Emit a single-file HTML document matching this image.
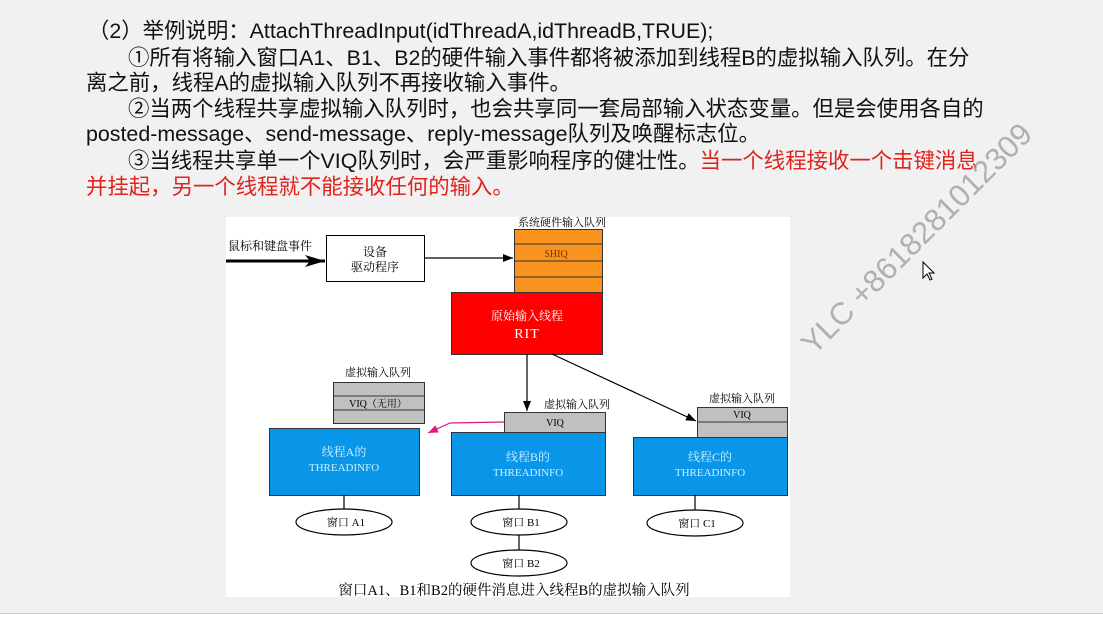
<!DOCTYPE html>
<html><head><meta charset="utf-8">
<style>
html,body{margin:0;padding:0}
body{width:1103px;height:620px;position:relative;overflow:hidden;background:#f1f1f1;font-family:"Liberation Sans","Noto Sans CJK SC",sans-serif}
.t{position:absolute;font-size:21.4px;color:#111;white-space:nowrap;line-height:26px}
.r{color:#e0231d}
.bottom{position:absolute;left:0;top:613px;width:1103px;height:7px;background:#fff;border-top:1px solid #ccc}
svg{position:absolute;left:0;top:0}
</style></head><body>
<div class="t" style="left:88px;top:18px">（2）举例说明：AttachThreadInput(idThreadA,idThreadB,TRUE);</div>
<div class="t" style="left:128px;top:45px">①所有将输入窗口A1、B1、B2的硬件输入事件都将被添加到线程B的虚拟输入队列。在分</div>
<div class="t" style="left:86px;top:70px">离之前，线程A的虚拟输入队列不再接收输入事件。</div>
<div class="t" style="left:128px;top:96px">②当两个线程共享虚拟输入队列时，也会共享同一套局部输入状态变量。但是会使用各自的</div>
<div class="t" style="left:86px;top:121px">posted-message、send-message、reply-message队列及唤醒标志位。</div>
<div class="t" style="left:128px;top:148px">③当线程共享单一个VIQ队列时，会严重影响程序的健壮性。<span class="r">当一个线程接收一个击键消息</span></div>
<div class="t r" style="left:86px;top:174px">并挂起，另一个线程就不能接收任何的输入。</div>
<div class="bottom"></div>
<svg width="1103" height="620" viewBox="0 0 1103 620" font-family="Liberation Serif,Noto Serif CJK SC,serif">
<defs>
<marker id="ar" markerWidth="10" markerHeight="8" refX="10" refY="4" orient="auto" markerUnits="userSpaceOnUse"><path d="M0,0 L10,4 L0,8 z" fill="#000"/></marker>
<marker id="arb" markerWidth="20" markerHeight="12" refX="20" refY="6" orient="auto" markerUnits="userSpaceOnUse"><path d="M0,0 L20,6 L0,12 L5,6 z" fill="#000"/></marker>
<marker id="arp" markerWidth="10" markerHeight="8" refX="10" refY="4" orient="auto" markerUnits="userSpaceOnUse"><path d="M0,0 L10,4 L0,8 z" fill="#e0197a"/></marker>
</defs>
<rect x="226" y="217" width="564" height="380" fill="#fff"/>
<text x="228" y="250" font-size="12">鼠标和键盘事件</text>
<line x1="226" y1="261" x2="325" y2="261" stroke="#000" stroke-width="3" marker-end="url(#arb)"/>
<rect x="326.5" y="235.5" width="98" height="46" fill="#fff" stroke="#000"/>
<text x="375" y="256" font-size="12" text-anchor="middle">设备</text>
<text x="375" y="271" font-size="12" text-anchor="middle">驱动程序</text>
<line x1="424" y1="258" x2="513" y2="258" stroke="#000" stroke-width="1.2" marker-end="url(#ar)"/>
<text x="562" y="226" font-size="11" text-anchor="middle">系统硬件输入队列</text>
<rect x="514.5" y="229.5" width="88" height="63" fill="#f7931e" stroke="#333"/>
<line x1="514" y1="244" x2="602" y2="244" stroke="#333"/>
<line x1="514" y1="261" x2="602" y2="261" stroke="#333"/>
<line x1="514" y1="277" x2="602" y2="277" stroke="#333"/>
<text x="556" y="257" font-size="10" text-anchor="middle" fill="#7a3000">SHIQ</text>
<rect x="451.5" y="292.5" width="151" height="62" fill="#f00" stroke="#333"/>
<text x="527" y="320" font-size="12" text-anchor="middle" fill="#fff">原始输入线程</text>
<text x="527" y="338" font-size="14" text-anchor="middle" fill="#fff" letter-spacing="1">RIT</text>
<line x1="527" y1="354" x2="527" y2="411" stroke="#000" stroke-width="1.2" marker-end="url(#ar)"/>
<line x1="552" y1="354" x2="696" y2="421" stroke="#000" stroke-width="1.2" marker-end="url(#ar)"/>
<text x="378" y="376" font-size="11" text-anchor="middle">虚拟输入队列</text>
<rect x="333.5" y="382.5" width="91" height="41" fill="#c0c0c0" stroke="#333"/>
<line x1="333" y1="396" x2="424" y2="396" stroke="#333"/>
<line x1="333" y1="410" x2="424" y2="410" stroke="#333"/>
<text x="378" y="407" font-size="10" text-anchor="middle">VIQ（无用）</text>
<rect x="269.5" y="428.5" width="150" height="67" fill="#0a96e8" stroke="#333"/>
<text x="344" y="456" font-size="12" text-anchor="middle" fill="#cfefff">线程A的</text>
<text x="344" y="471" font-size="11" text-anchor="middle" fill="#cfefff">THREADINFO</text>
<text x="577" y="408" font-size="11" text-anchor="middle">虚拟输入队列</text>
<rect x="504.5" y="412.5" width="101" height="20" fill="#c0c0c0" stroke="#333"/>
<text x="555" y="426" font-size="10" text-anchor="middle">VIQ</text>
<polyline points="504,422 450,423 428,433" fill="none" stroke="#e0197a" stroke-width="1.2" marker-end="url(#arp)"/>
<rect x="451.5" y="432.5" width="154" height="63" fill="#0a96e8" stroke="#333"/>
<text x="528" y="461" font-size="12" text-anchor="middle" fill="#cfefff">线程B的</text>
<text x="528" y="476" font-size="11" text-anchor="middle" fill="#cfefff">THREADINFO</text>
<text x="742" y="402" font-size="11" text-anchor="middle">虚拟输入队列</text>
<rect x="697.5" y="407.5" width="90" height="30" fill="#c0c0c0" stroke="#333"/>
<line x1="697" y1="422" x2="787" y2="422" stroke="#333"/>
<text x="742" y="418" font-size="10" text-anchor="middle">VIQ</text>
<rect x="633.5" y="437.5" width="154" height="58" fill="#0a96e8" stroke="#333"/>
<text x="710" y="461" font-size="12" text-anchor="middle" fill="#cfefff">线程C的</text>
<text x="710" y="476" font-size="11" text-anchor="middle" fill="#cfefff">THREADINFO</text>
<g stroke="#000" stroke-width="1.2" fill="#fff">
<line x1="344" y1="495" x2="344" y2="509"/>
<line x1="519" y1="495" x2="519" y2="550"/>
<line x1="695" y1="495" x2="695" y2="510"/>
<ellipse cx="344" cy="522" rx="48" ry="13"/>
<ellipse cx="519" cy="522" rx="48" ry="13"/>
<ellipse cx="519" cy="563" rx="48" ry="13"/>
<ellipse cx="695" cy="523" rx="48" ry="13"/>
</g>
<g font-size="11" text-anchor="middle">
<text x="346" y="526">窗口 A1</text>
<text x="521" y="526">窗口 B1</text>
<text x="521" y="567">窗口 B2</text>
<text x="697" y="527">窗口 C1</text>
</g>
<text x="514" y="595" font-size="14.5" text-anchor="middle">窗口A1、B1和B2的硬件消息进入线程B的虚拟输入队列</text>
<text x="0" y="0" font-family="Liberation Sans,sans-serif" font-size="31" fill="#9a9a9a" fill-opacity="0.75" transform="translate(814,356) rotate(-45)">YLC +8618281012309</text>
<path d="M923,262 l0,16 l4,-4 l3,6 l2,-1 l-3,-6 l5,0 z" fill="#fff" stroke="#000"/>
</svg>
</body></html>
